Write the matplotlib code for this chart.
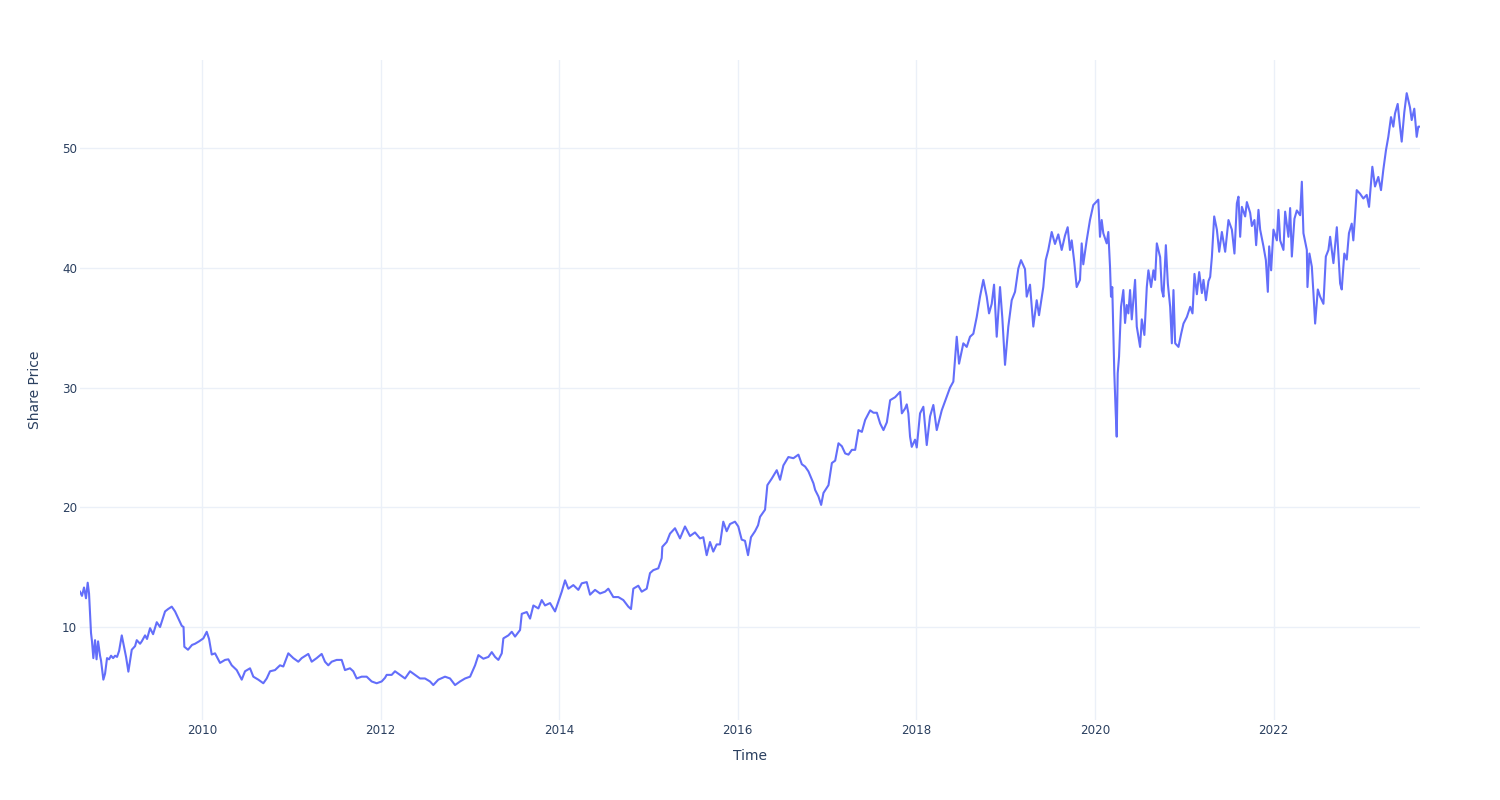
import matplotlib
matplotlib.use("Agg")
import matplotlib.pyplot as plt
import matplotlib.dates as mdates
import pandas as pd

# decimal-year time stamps
years = [
    2008.634, 2008.656, 2008.679, 2008.701, 2008.720, 2008.735, 2008.757, 2008.768, 2008.783, 2008.802,
    2008.819, 2008.836, 2008.858, 2008.869, 2008.895, 2008.914, 2008.936, 2008.959, 2008.981, 2009.004,
    2009.026, 2009.048, 2009.071, 2009.101, 2009.127, 2009.149, 2009.175, 2009.213, 2009.250, 2009.269,
    2009.306, 2009.325, 2009.362, 2009.384, 2009.418, 2009.452, 2009.493, 2009.530, 2009.586, 2009.620,
    2009.661, 2009.698, 2009.735, 2009.773, 2009.793, 2009.802, 2009.843, 2009.888, 2009.922, 2009.967,
    2010.015, 2010.053,
    2010.079, 2010.109, 2010.146, 2010.202, 2010.258, 2010.295, 2010.333, 2010.389, 2010.445, 2010.482,
    2010.538, 2010.575, 2010.631, 2010.687, 2010.725, 2010.762, 2010.818, 2010.874, 2010.911, 2010.967,
    2011.023, 2011.079, 2011.117, 2011.191, 2011.229, 2011.285, 2011.341, 2011.378, 2011.415, 2011.453,
    2011.509, 2011.565, 2011.602, 2011.658, 2011.695, 2011.733, 2011.789, 2011.845, 2011.901, 2011.957,
    2012.013, 2012.050,
    2012.069, 2012.125, 2012.162, 2012.218, 2012.274, 2012.330, 2012.386, 2012.441, 2012.497, 2012.553,
    2012.590, 2012.646, 2012.721, 2012.777, 2012.833, 2012.889, 2012.945, 2013.001, 2013.057, 2013.094,
    2013.150, 2013.206, 2013.244, 2013.281, 2013.318, 2013.356, 2013.374, 2013.430, 2013.468, 2013.505,
    2013.561, 2013.580, 2013.636, 2013.673, 2013.710, 2013.766, 2013.804, 2013.841, 2013.897, 2013.953,
    2013.990, 2014.028, 2014.065,
    2014.102, 2014.158, 2014.214, 2014.252, 2014.308, 2014.345, 2014.401, 2014.457, 2014.513, 2014.550,
    2014.606, 2014.662, 2014.718, 2014.774, 2014.804, 2014.830, 2014.886, 2014.924, 2014.980, 2015.017,
    2015.054, 2015.110, 2015.148, 2015.155, 2015.204, 2015.241, 2015.297, 2015.353, 2015.409, 2015.465,
    2015.521, 2015.577, 2015.614, 2015.652, 2015.689, 2015.726, 2015.764, 2015.801, 2015.838, 2015.876,
    2015.913, 2015.969, 2016.006, 2016.044, 2016.081, 2016.115, 2016.148, 2016.193, 2016.227, 2016.249,
    2016.305,
    2016.331, 2016.380, 2016.436, 2016.473, 2016.510, 2016.566, 2016.622, 2016.678, 2016.716, 2016.753,
    2016.790, 2016.846, 2016.865, 2016.902, 2016.932, 2016.958, 2017.014, 2017.052, 2017.089, 2017.126,
    2017.164, 2017.201, 2017.238, 2017.276, 2017.313, 2017.350, 2017.388, 2017.425, 2017.481, 2017.518,
    2017.556, 2017.593, 2017.630, 2017.668, 2017.705, 2017.761, 2017.817, 2017.836, 2017.872, 2017.891,
    2017.909, 2017.928, 2017.947, 2017.984, 2018.003, 2018.040,
    2018.077, 2018.115, 2018.152, 2018.189, 2018.227, 2018.283, 2018.339, 2018.376, 2018.413, 2018.451,
    2018.477, 2018.525, 2018.563, 2018.600, 2018.637, 2018.675, 2018.712, 2018.749, 2018.787, 2018.813,
    2018.843, 2018.869, 2018.899, 2018.936, 2018.962, 2018.992, 2019.029, 2019.067, 2019.104, 2019.141,
    2019.171, 2019.216, 2019.235, 2019.272, 2019.309, 2019.347, 2019.373, 2019.421, 2019.448, 2019.477,
    2019.515, 2019.552, 2019.589, 2019.627, 2019.664, 2019.694, 2019.720, 2019.739, 2019.768, 2019.795,
    2019.832, 2019.851, 2019.869, 2019.907, 2019.944, 2019.981, 2020.037,
    2020.056, 2020.075, 2020.093, 2020.131, 2020.149, 2020.168, 2020.179, 2020.193, 2020.205, 2020.216,
    2020.232, 2020.243, 2020.254, 2020.269, 2020.291, 2020.317, 2020.336, 2020.355, 2020.373, 2020.392,
    2020.411, 2020.448, 2020.467, 2020.504, 2020.523, 2020.552, 2020.579, 2020.597, 2020.627, 2020.653,
    2020.672, 2020.691, 2020.728, 2020.747, 2020.765, 2020.792, 2020.814, 2020.840, 2020.859, 2020.877,
    2020.896, 2020.933, 2020.963, 2020.989, 2021.027, 2021.064, 2021.090, 2021.112, 2021.139, 2021.165,
    2021.195, 2021.213, 2021.240, 2021.269, 2021.288, 2021.307, 2021.333, 2021.363, 2021.389, 2021.419,
    2021.456, 2021.493, 2021.531, 2021.560, 2021.587, 2021.605, 2021.624, 2021.643, 2021.680, 2021.699,
    2021.736, 2021.755, 2021.784, 2021.803, 2021.829, 2021.848, 2021.885, 2021.912, 2021.934, 2021.949,
    2021.971, 2021.997, 2022.035, 2022.053,
    2022.072, 2022.109, 2022.128, 2022.165, 2022.184, 2022.203, 2022.232, 2022.259, 2022.296, 2022.315,
    2022.333, 2022.371, 2022.378, 2022.400, 2022.427, 2022.445, 2022.464, 2022.494, 2022.520, 2022.557,
    2022.584, 2022.613, 2022.632, 2022.669, 2022.707, 2022.744, 2022.762, 2022.791, 2022.818, 2022.843,
    2022.874, 2022.892, 2022.911, 2022.930, 2022.967, 2023.004, 2023.042, 2023.068, 2023.105, 2023.135,
    2023.172, 2023.202, 2023.228, 2023.258, 2023.284, 2023.314, 2023.340, 2023.359, 2023.389, 2023.415,
    2023.434, 2023.463, 2023.490, 2023.527, 2023.546, 2023.575, 2023.602, 2023.620, 2023.639,
]

# share price values
prices = [
    12.95, 12.6, 13.3, 12.4, 13.7, 12.8, 9.5, 8.8, 7.4, 8.9,
    7.3, 8.8, 7.6, 7.2, 5.6, 6.1, 7.4, 7.3, 7.6, 7.4,
    7.6, 7.5, 8.0, 9.3, 8.35, 7.5, 6.27, 8.1, 8.4, 8.9,
    8.6, 8.8, 9.3, 9.0, 9.9, 9.4, 10.4, 10.0, 11.3, 11.5,
    11.7, 11.3, 10.7, 10.1, 10.0, 8.35, 8.1, 8.5, 8.6, 8.8,
    9.05, 9.6,
    9.0, 7.7, 7.8, 7.0, 7.25, 7.3, 6.8, 6.4, 5.6, 6.3,
    6.55, 5.85, 5.6, 5.3, 5.7, 6.3, 6.4, 6.8, 6.7, 7.8,
    7.4, 7.1, 7.4, 7.75, 7.1, 7.4, 7.75, 7.1, 6.8, 7.1,
    7.25, 7.25, 6.4, 6.55, 6.3, 5.7, 5.85, 5.85, 5.45, 5.3,
    5.45, 5.75,
    6.0, 6.0, 6.3, 6.0, 5.7, 6.3, 6.0, 5.7, 5.7, 5.45,
    5.15, 5.6, 5.85, 5.7, 5.15, 5.45, 5.7, 5.85, 6.8, 7.65,
    7.35, 7.5, 7.9, 7.5, 7.25, 7.8, 9.05, 9.3, 9.6, 9.2,
    9.75, 11.1, 11.25, 10.7, 11.8, 11.55, 12.25, 11.8, 12.0, 11.3,
    12.1, 12.95, 13.9,
    13.2, 13.5, 13.1, 13.65, 13.75, 12.7, 13.1, 12.8, 12.95, 13.2,
    12.5, 12.5, 12.25, 11.7, 11.5, 13.2, 13.45, 12.95, 13.2, 14.5,
    14.75, 14.9, 15.75, 16.7, 17.1, 17.8, 18.25, 17.4, 18.4, 17.6,
    17.9, 17.4, 17.5, 16.0, 17.1, 16.3, 16.9, 16.9, 18.8, 18.0,
    18.6, 18.8, 18.4, 17.3, 17.2, 16.0, 17.5, 18.0, 18.5, 19.2,
    19.8,
    21.85, 22.4, 23.1, 22.3, 23.5, 24.2, 24.1, 24.4, 23.6, 23.4,
    23.0, 22.0, 21.45, 20.9, 20.2, 21.2, 21.85, 23.7, 23.9, 25.35,
    25.1, 24.5, 24.4, 24.8, 24.8, 26.45, 26.3, 27.3, 28.1, 27.9,
    27.9, 27.0, 26.45, 27.1, 28.95, 29.2, 29.65, 27.85, 28.25, 28.6,
    27.85, 25.9, 25.05, 25.65, 25.0, 27.85,
    28.4, 25.2, 27.6, 28.55, 26.45, 28.1, 29.25, 30.0, 30.5, 34.25,
    32.0, 33.7, 33.4, 34.25, 34.5, 35.9, 37.6, 39.0, 37.6, 36.2,
    37.0, 38.6, 34.25, 38.4, 35.8, 31.9, 35.1, 37.3, 38.0, 39.95,
    40.65, 39.9, 37.6, 38.6, 35.1, 37.3, 36.05, 38.4, 40.65, 41.5,
    43.0, 42.0, 42.8, 41.5, 42.7, 43.4, 41.5, 42.3, 40.5, 38.4,
    39.0, 42.05, 40.3, 42.3, 44.0, 45.25, 45.7,
    42.6, 44.0, 42.9, 42.05, 43.0, 40.1, 37.6, 38.4, 34.8, 31.2,
    27.85, 25.9, 31.2, 32.6, 36.75, 38.15, 35.4, 36.9, 36.2, 38.15,
    35.7, 39.0, 35.1, 33.4, 35.7, 34.4, 38.4, 39.8, 38.4, 39.8,
    39.0, 42.05, 40.9, 38.15, 37.6, 41.9, 38.7, 36.75, 33.7, 38.15,
    33.7, 33.4, 34.5, 35.35, 35.9, 36.75, 36.2, 39.5, 37.8, 39.65,
    37.9, 39.0, 37.3, 38.9, 39.25, 40.9, 44.3, 43.2, 41.35, 43.0,
    41.35, 44.0, 43.2, 41.2, 45.4, 45.95, 42.6, 45.1, 44.3, 45.5,
    44.6, 43.5, 44.0, 41.9, 44.85, 43.2, 41.8, 40.65, 38.0, 41.8,
    39.8, 43.2, 42.3, 44.85,
    42.3, 41.5, 44.7, 42.6, 45.0, 40.95, 44.1, 44.8, 44.4, 47.2,
    42.9, 41.5, 38.4, 41.2, 40.1, 37.9, 35.35, 38.2, 37.6, 37.0,
    40.95, 41.5, 42.6, 40.4, 43.4, 38.7, 38.2, 41.2, 40.7, 42.9,
    43.7, 42.3, 44.3, 46.5, 46.2, 45.8, 46.1, 45.1, 48.45, 46.8,
    47.6, 46.5, 48.2, 49.85, 50.95, 52.6, 51.8, 52.9, 53.7, 51.8,
    50.55, 53.0, 54.6, 53.4, 52.35, 53.3, 50.95, 51.8, 51.8,
]

x_tick_years = [2010, 2012, 2014, 2016, 2018, 2020, 2022]
y_ticks = [10, 20, 30, 40, 50]


def to_date(y):
    yr = int(y)
    start = pd.Timestamp(yr, 1, 1)
    end = pd.Timestamp(yr + 1, 1, 1)
    return start + (end - start) * (y - yr)


dates = [to_date(y) for y in years]

plt.rcParams['font.family'] = ['DejaVu Sans']
TXT = '#2a3f5f'
GRID = '#EBF0F8'

fig = plt.figure(figsize=(15, 8), dpi=100)
ax = fig.add_axes([80 / 1500, 80 / 800, 1340 / 1500, 660 / 800])

ax.plot(dates, prices, color='#636efa', linewidth=1.5, solid_joinstyle='round')

ax.set_xlim(dates[0], dates[-1])
ax.set_ylim(2.23, 57.37)

ax.set_xticks([pd.Timestamp(y, 1, 1) for y in x_tick_years])
ax.xaxis.set_major_formatter(mdates.DateFormatter('%Y'))
ax.set_yticks(y_ticks)

ax.grid(True, color=GRID, linewidth=1)
ax.set_axisbelow(True)
for s in ax.spines.values():
    s.set_visible(False)
ax.tick_params(axis='both', length=0, colors=TXT, labelsize=8.6)
ax.tick_params(axis='x', pad=3)
ax.tick_params(axis='y', pad=2)

fig.text(750 / 1500, 1 - 756 / 800, 'Time', ha='center', va='center', fontsize=10, color=TXT)
fig.text(35 / 1500, 1 - 390 / 800, 'Share Price', ha='center', va='center', fontsize=10,
         color=TXT, rotation=90)

fig.savefig('out.png', dpi=100, facecolor='white')
